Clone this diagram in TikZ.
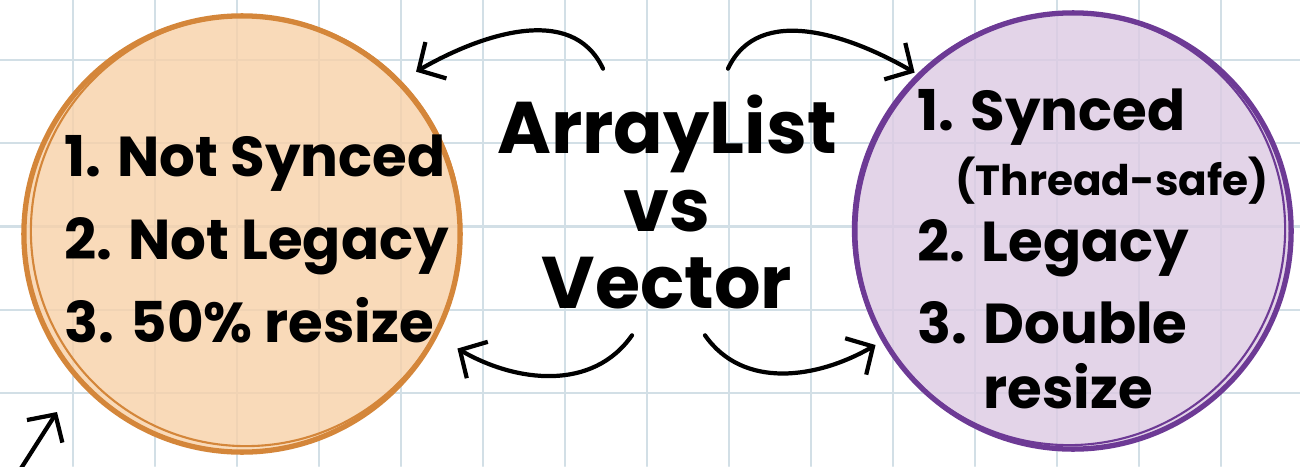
\documentclass[tikz,border=0pt]{standalone}
\usepackage{fontspec}
\setmainfont{Poppins}
\usetikzlibrary{arrows.meta,calc}

\definecolor{gridblue}{HTML}{D2DFE6}
\definecolor{alfill}{HTML}{F8D1A8}
\definecolor{alline}{HTML}{D4863A}
\definecolor{vecfill}{HTML}{DCCAE3}
\definecolor{vecline}{HTML}{6D3A95}

\begin{document}
\begin{tikzpicture}[line cap=round,line join=round,x=0.01cm,y=0.01cm,
    >={Straight Barb[length=0.2cm,width=0.42cm]},
    paper/.style={draw=gridblue,line width=0.6pt},
    bubble/.style={circle,minimum size=4.36cm,inner sep=0pt,line width=1.5pt,fill opacity=0.8},
    listtxt/.style={align=left,inner sep=0pt,font=\fontsize{16}{23.6}\selectfont\bfseries},
    swap/.style={->,line width=1.2pt}]
  \useasboundingbox (0,0) rectangle (1300,466);
  \clip (0,0) rectangle (1300,466);
  \fill [white] (0,0) rectangle (1300,466);
  % squared paper
  \foreach \gx in {73,155,...,1221}
    \draw [paper] (\gx,0) -- (\gx,466);
  \foreach \gy in {73,156.25,...,410}
    \draw [paper] (0,\gy) -- (1300,\gy);
  % the two bubbles, with a second pen stroke each
  \node [bubble,draw=alline,fill=alfill] (al) at (242,232) {};
  \node [bubble,draw=vecline,fill=vecfill] (vec) at (1073,235) {};
  \draw [alline,line width=0.6pt] ($(al)+(4,3)$) circle [radius=2.15cm];
  \draw [vecline,line width=0.6pt] ($(vec)+(-4,2)$) circle [radius=2.16cm];
  % bubble texts
  \node [listtxt,anchor=north west] (alpts) at (64,332) {1. Not Synced\\2. Not Legacy\\3. 50\% resize};
  \node [listtxt,anchor=north west,font=\fontsize{16}{17}\selectfont\bfseries] (vecpts) at (917,378)
    {1. Synced\\[1.5pt]
     \hspace*{0.38cm}{\fontsize{12}{17}\selectfont(Thread-safe)}\\[1.8pt]
     2. Legacy\\[6.3pt]
     3. Double\\[1.5pt]
     \phantom{3. }resize};
  % title in the middle
  \node [align=center,inner xsep=0pt,inner ysep=0.26cm,font=\fontsize{20.8}{21.9}\selectfont\bfseries] (title) at (667,264) {ArrayList\\vs\\Vector};
  % arrows between title and bubbles
  \draw [swap] ($(title.north)+(-64,0)$) to[out=115,in=30] ($(al)+(43:238)$);
  \draw [swap] ($(title.north)+(61,0)$) to[out=65,in=150] ($(vec)+(135:224)$);
  \draw [swap] ($(title.south)+(-35,0)$) to[out=235,in=-30] ($(al)+(-28:244)$);
  \draw [swap] ($(title.south)+(38,0)$) to[out=-55,in=210] ($(vec)+(210:228)$);
  % stray arrow in the corner
  \coordinate (tail) at (20,-4);
  \coordinate (head) at (57,54);
  \draw [swap] (tail) -- (head);
\end{tikzpicture}
\end{document}
